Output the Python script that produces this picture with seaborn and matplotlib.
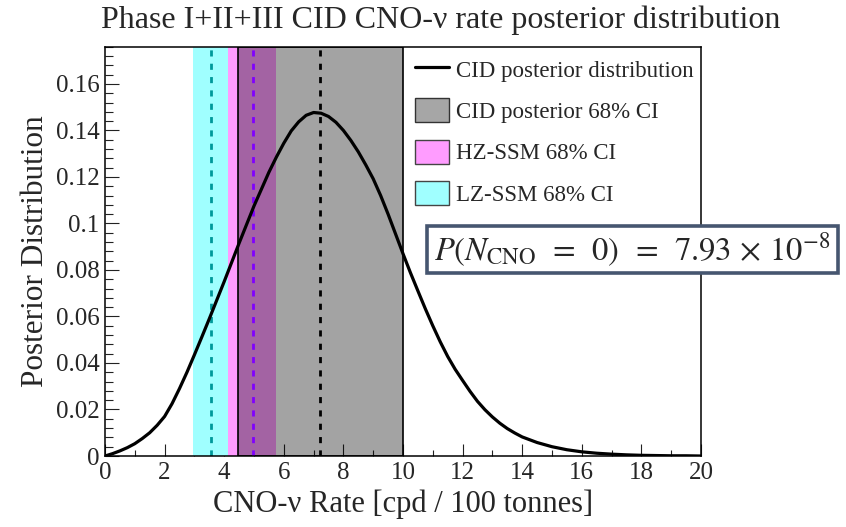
import numpy as np
import matplotlib
matplotlib.use("Agg")
import matplotlib.pyplot as plt
from matplotlib.patches import Patch, Rectangle
from matplotlib.lines import Line2D
from matplotlib.ticker import MultipleLocator, FuncFormatter
import seaborn as sns

# CID posterior curve
rate = [0.0, 0.25, 0.5, 0.75, 1.0, 1.25, 1.5, 1.75, 2.0, 2.25, 2.5, 2.75, 3.0,
        3.25, 3.5, 4.0, 4.5, 5.0, 5.5, 5.75, 6.0, 6.25, 6.5, 6.75, 7.0, 7.25,
        7.5, 7.75, 8.0, 8.25, 8.5, 8.75, 9.0, 9.25, 9.5, 9.75, 10.0, 10.25,
        10.5, 10.75, 11.0, 11.25, 11.5, 11.75, 12.0, 12.25, 12.5, 12.75, 13.0,
        13.25, 13.5, 13.75, 14.0, 14.5, 15.0, 15.5, 16.0, 16.5, 17.0, 17.5,
        18.0, 18.5, 19.0, 19.5, 20.0]
posterior = [0.0, 0.0010, 0.0022, 0.0036, 0.0053, 0.0075, 0.0100, 0.0132,
             0.0170, 0.0225, 0.0290, 0.0360, 0.0435, 0.0512, 0.0590, 0.0750,
             0.0915, 0.1075, 0.1220, 0.1285, 0.1345, 0.1398, 0.1437, 0.1465,
             0.1477, 0.1474, 0.1460, 0.1435, 0.1400, 0.1357, 0.1308, 0.1252,
             0.1192, 0.1120, 0.1040, 0.0955, 0.0870, 0.0788, 0.0710, 0.0633,
             0.0560, 0.0491, 0.0428, 0.0373, 0.0325, 0.0278, 0.0235, 0.0199,
             0.0168, 0.0141, 0.0118, 0.0099, 0.0082, 0.0058, 0.0040, 0.0027,
             0.0018, 0.0012, 0.0008, 0.0005, 0.0003, 0.0002, 0.0001, 0.0001,
             0.0]

# 68% intervals and central values
cid_ci = [4.48, 10.0]
cid_mode = 7.2
hz_ci = [4.14, 5.74]
hz_center = 4.96
lz_ci = [2.96, 4.14]
lz_center = 3.56

legend_labels = ['CID posterior distribution', 'CID posterior 68% CI',
                 'HZ-SSM 68% CI', 'LZ-SSM 68% CI']
title = 'Phase I+II+III CID CNO-\u03bd rate posterior distribution'
xlabel = 'CNO-\u03bd Rate [cpd / 100 tonnes]'
ylabel = 'Posterior Distribution'
p_zero = r'$P(N_{\mathrm{CNO}}\,\ =\,\ 0)\,\ =\,\ 7.93\,\times\,10^{-8}$'

sns.set_theme(style='white')
plt.rcParams['font.family'] = ['Liberation Serif', 'DejaVu Serif']
plt.rcParams['mathtext.fontset'] = 'stix'

fig, ax = plt.subplots(figsize=(8.46, 5.27), dpi=100)
fig.subplots_adjust(left=0.1241, right=0.8286, bottom=0.1347, top=0.9114)

# bands
ax.axvspan(lz_ci[0], lz_ci[1], color='#a0ffff', lw=0, zorder=1)
ax.axvspan(hz_ci[0], hz_ci[1], color='#ff9cff', lw=0, zorder=1)
ax.axvspan(cid_ci[0], cid_ci[1], facecolor=(0, 0, 0, 0.36), edgecolor='black',
           lw=1.2, zorder=2)

dash = (0, (2.2, 2.6))
ax.axvline(lz_center, color='#00999a', ls=dash, lw=2, zorder=3)
ax.axvline(hz_center, color='#8000ff', ls=dash, lw=2, zorder=3)
ax.axvline(cid_mode, color='black', ls=dash, lw=2, zorder=3)

sns.lineplot(x=rate, y=posterior, color='black', lw=2.3, ax=ax, zorder=4,
             estimator=None, sort=False)

ax.set_xlim(0, 20)
ax.set_ylim(0, 0.176)
ax.xaxis.set_major_locator(MultipleLocator(2))
ax.xaxis.set_minor_locator(MultipleLocator(1))
ax.yaxis.set_major_locator(MultipleLocator(0.02))
ax.yaxis.set_minor_locator(MultipleLocator(0.004))
ax.yaxis.set_major_formatter(FuncFormatter(lambda v, p: f'{round(v, 3):g}'))

ax.tick_params(which='both', direction='in', bottom=True, left=True,
               top=False, right=False, labelsize=18, color='#222222',
               width=0.8)
ax.tick_params(axis='x', which='major', length=9, pad=4)
ax.tick_params(axis='x', which='minor', length=4.5)
ax.tick_params(axis='y', which='major', length=10, pad=4)
ax.tick_params(axis='y', which='minor', length=5.5)
for s in ax.spines.values():
    s.set_color('black')
    s.set_linewidth(1.1)
    s.set_zorder(5)

ax.set_xlabel(xlabel, fontsize=22, labelpad=4)
ax.set_ylabel(ylabel, fontsize=22.5, labelpad=4)
fig.text(0.521, 0.962, title, ha='center', va='center', fontsize=23)

handles = [Line2D([], [], color='black', lw=2.3),
           Patch(facecolor='#a6a6a6', edgecolor='#333333', lw=1),
           Patch(facecolor='#ff9cff', edgecolor='#444444', lw=1),
           Patch(facecolor='#a0ffff', edgecolor='#444444', lw=1)]
ax.legend(handles, legend_labels, loc='upper left', bbox_to_anchor=(0.52, 0.975),
          frameon=False, borderpad=0, borderaxespad=0, fontsize=16.5,
          handlelength=1.5, handleheight=1.25, handletextpad=0.3,
          labelspacing=0.72)

# probability box
fig.add_artist(Rectangle((427 / 846, 1 - 273 / 527), 411 / 846, 47 / 527,
                         transform=fig.transFigure, facecolor='white',
                         edgecolor='#465670', lw=2.6, zorder=10))
fig.text(632 / 846, 1 - 250 / 527, p_zero, ha='center', va='center',
         fontsize=23.5, zorder=11)

fig.savefig('out.png', dpi=100)
